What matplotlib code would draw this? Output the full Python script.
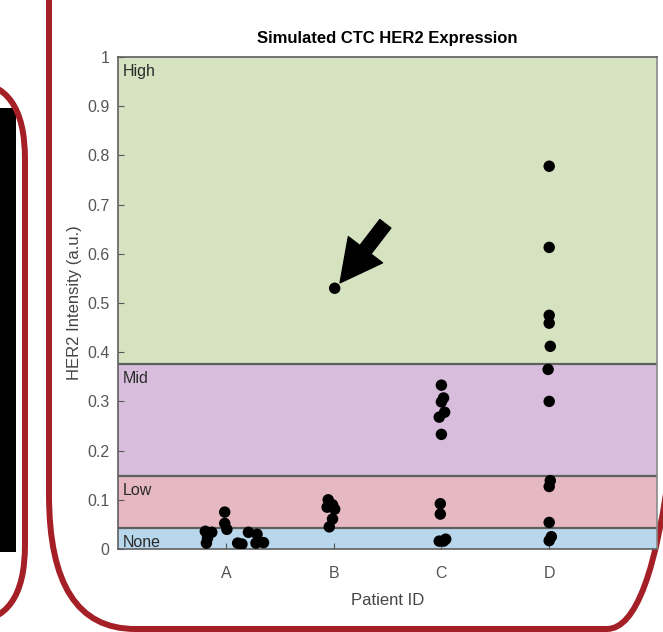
import numpy as np
import matplotlib
matplotlib.use('Agg')
import matplotlib.pyplot as plt
from matplotlib.patches import FancyBboxPatch, Rectangle

plt.rcParams['font.family'] = ['Liberation Sans', 'DejaVu Sans']

# Datos
patients = ['A', 'B', 'C', 'D']

a_x = [0.81, 0.83, 0.82, 0.87, 0.99, 0.99, 1.01, 1.11, 1.15, 1.21, 1.29, 1.28, 1.35]
a_y = [0.036, 0.022, 0.012, 0.034, 0.075, 0.052, 0.040, 0.012, 0.010, 0.034, 0.030, 0.012, 0.013]

b_x = [1.95, 1.99, 2.01, 1.94, 1.99, 1.96, 2.01]
b_y = [0.100, 0.090, 0.081, 0.085, 0.061, 0.045, 0.530]

c_x = [3.00, 3.02, 3.00, 3.03, 2.98, 3.00, 2.99, 2.99, 2.98, 3.04, 3.02]
c_y = [0.333, 0.307, 0.299, 0.278, 0.268, 0.233, 0.092, 0.071, 0.016, 0.020, 0.016]

d_x = [4.00, 4.00, 4.00, 4.00, 4.01, 3.99, 4.00, 4.01, 4.00, 4.00, 4.02, 4.00]
d_y = [0.778, 0.613, 0.475, 0.459, 0.412, 0.365, 0.300, 0.139, 0.127, 0.054, 0.025, 0.017]

# Bandas de expresión
band_names = ['None', 'Low', 'Mid', 'High']
band_edges = [0.0, 0.043, 0.148, 0.376, 1.0]
band_colors = ['#b8d6ec', '#e6b8c1', '#d8bedc', '#d5e3c1']

# Flecha (datos)
arrow_tip = (2.06, 0.541)
arrow_tail = (2.48, 0.661)

fig = plt.figure(figsize=(6.63, 6.32), dpi=100)

# Fondo con los marcos redondeados (coordenadas en pixeles)
bg = fig.add_axes([0, 0, 1, 1])
bg.set_xlim(0, 663)
bg.set_ylim(632, 0)
bg.axis('off')
red = '#a51f26'
bg.add_patch(Rectangle((-5, 108), 21, 444, facecolor='black', edgecolor='none'))
bg.add_patch(FancyBboxPatch((-90, 82), 115, 540,
                            boxstyle='round,pad=0,rounding_size=55',
                            mutation_aspect=1.4,
                            facecolor='none', edgecolor=red, lw=4.3))
bg.add_patch(FancyBboxPatch((49, -200), 644, 829,
                            boxstyle='round,pad=0,rounding_size=86',
                            mutation_aspect=1.56,
                            facecolor='none', edgecolor=red, lw=4.3))

ax = fig.add_axes([118 / 663, 83 / 632, 539 / 663, 492 / 632])
for i, name in enumerate(band_names):
    lo, hi = band_edges[i], band_edges[i + 1]
    ax.axhspan(lo, hi, facecolor=band_colors[i], edgecolor='none', zorder=0)
    if i > 0:
        ax.axhline(lo, color='#5f5f5f', lw=1.6, zorder=1)
    ax.text(0.04, hi - 0.014, name, fontsize=11.5, color='#2a2a2a',
            va='top', ha='left', zorder=2)

for xs, ys in [(a_x, a_y), (b_x, b_y), (c_x, c_y), (d_x, d_y)]:
    ax.scatter(xs, ys, s=68, color='black', edgecolors='none', zorder=3)

ax.annotate('', xy=arrow_tip, xytext=arrow_tail,
            arrowprops=dict(arrowstyle='simple,head_length=0.6,head_width=0.62,tail_width=0.2',
                            mutation_scale=50, color='black', shrinkA=0, shrinkB=0),
            zorder=4)

ax.set_xlim(0, 5)
ax.set_ylim(0, 1)
ax.set_xticks([1, 2, 3, 4])
ax.set_xticklabels(patients)
ax.set_yticks(np.arange(0, 1.01, 0.1))
ax.set_yticklabels(['0'] + ['%.1f' % v for v in np.arange(0.1, 0.95, 0.1)] + ['1'])
ax.tick_params(direction='in', length=4, colors='#555555', labelsize=11.5,
               labelcolor='#555555', pad=6)
ax.tick_params(axis='x', pad=12)
for s in ax.spines.values():
    s.set_color('#5f5f5f')
    s.set_linewidth(1.2)
ax.spines['right'].set_color('#8a8a8a')

ax.set_title('Simulated CTC HER2 Expression', fontsize=12, fontweight='bold', pad=10)
ax.set_xlabel('Patient ID', fontsize=12, color='#444444', labelpad=9)
ax.set_ylabel('HER2 Intensity (a.u.)', fontsize=12, color='#444444', labelpad=4)

fig.savefig('out.png', dpi=100)
